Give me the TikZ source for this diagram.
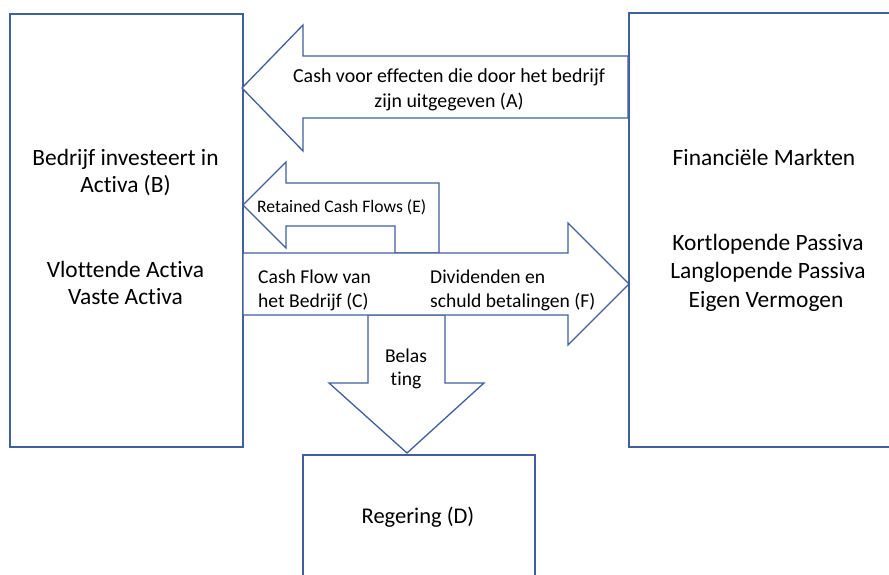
\documentclass[tikz,border=0pt]{standalone}
\usepackage{fontspec}
\setmainfont{Carlito}[Ligatures=NoCommon]
\definecolor{edge}{HTML}{3F5F9F}
\begin{document}
\begin{tikzpicture}[x=1pt,y=-1pt,
  box/.style={draw=edge, line width=1.8pt, fill=white, inner sep=0pt, anchor=north west},
  barrow/.style={draw=edge, line width=1.3pt, fill=white, line join=miter},
  lbl/.style={inner sep=0pt, anchor=base, text=black},
  lblw/.style={inner sep=0pt, anchor=base west, text=black},
  fA/.style={font=\fontsize{19.9}{24}\selectfont},
  fB/.style={font=\fontsize{23.4}{28}\selectfont},
  fC/.style={font=\fontsize{19.6}{24}\selectfont},
  fD/.style={font=\fontsize{22.5}{27}\selectfont},
  fE/.style={font=\fontsize{17.6}{21}\selectfont}]
\useasboundingbox (0,0) rectangle (889,575);
\clip (0,0) rectangle (889,575);
% boxes
\node[box, minimum width=233pt, minimum height=433pt] (B) at (9,13) {};
\node[box, minimum width=290pt, minimum height=434pt] (M) at (628,12) {};
\node[box, minimum width=232pt, minimum height=140pt] (D) at (302,454) {};
% arrow A (markets -> company)
\draw[barrow] (628,56) -- (303,56) -- (303,25) -- (242,88) -- (303,151) -- (303,118) -- (628,118) -- cycle;
% arrow E (retained)
\draw[barrow] (439,253) -- (439,183) -- (286,183) -- (286,162) -- (243,205) -- (286,248) -- (286,226) -- (395,226) -- (395,253) -- cycle;
% tax arrow
\draw[barrow] (368,315) -- (368,383) -- (329,383) -- (407,453) -- (484,383) -- (445,383) -- (445,315) -- cycle;
% arrow C/F
\draw[barrow] (243,253) -- (568,253) -- (568,223) -- (629,284) -- (568,345) -- (568,315) -- (243,315) -- cycle;
% texts
\node[lbl, fA] (a1) at (449,83) {Cash voor effecten die door het bedrijf};
\node[lbl, fA] (a2) at (449,108) {zijn uitgegeven (A)};
\node[lbl, fB] (b1) at (125.5,166) {Bedrijf investeert in};
\node[lbl, fB] (b2) at (125.5,193) {Activa (B)};
\node[lbl, fB] (b3) at (125.5,277) {Vlottende Activa};
\node[lbl, fB] (b4) at (125.5,304) {Vaste Activa};
\node[lbl, fB] (m1) at (764,165) {Financiële Markten};
\node[lbl, fB] (m2) at (768,250) {Kortlopende Passiva};
\node[lbl, fB] (m3) at (768,278) {Langlopende Passiva};
\node[lbl, fB] (m4) at (766,307) {Eigen Vermogen};
\node[lblw, fE] (e1) at (257,212) {Retained Cash Flows (E)};
\node[lblw, fC] (c1) at (258,283) {Cash Flow van};
\node[lblw, fC] (c2) at (258,307) {het Bedrijf (C)};
\node[lblw, fC] (f1) at (430,283) {Dividenden en};
\node[lblw, fC] (f2) at (430,307) {schuld betalingen (F)};
\node[lbl, fC] (t1) at (406,362) {Belas};
\node[lbl, fC] (t2) at (406,385) {ting};
\node[lbl, fD] (d1) at (418,523) {Regering (D)};
\end{tikzpicture}
\end{document}
